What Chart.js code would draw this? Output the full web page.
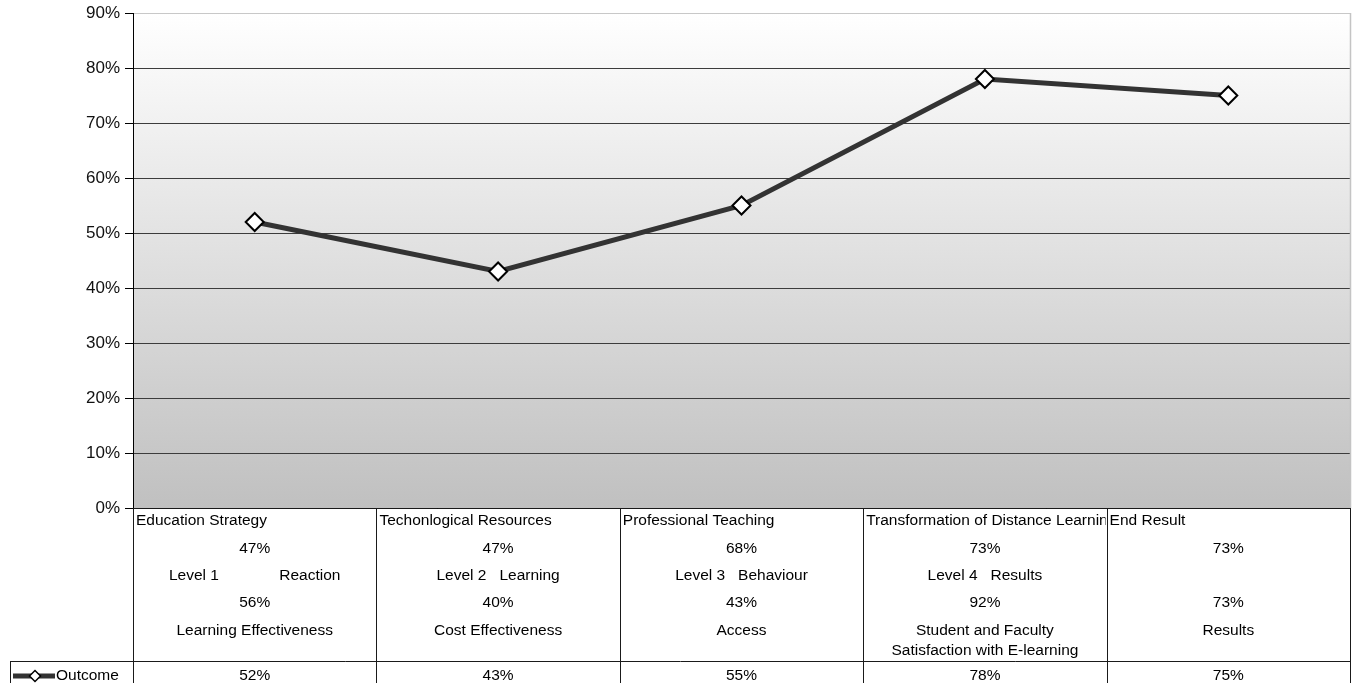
<!DOCTYPE html>
<html>
<head>
<meta charset="utf-8">
<script src="https://cdn.jsdelivr.net/npm/chart.js@4/dist/chart.umd.min.js"></script>
<style>
  html, body { margin: 0; padding: 0; background: #fff; overflow: hidden; }
  #wrap { width: 1357px; height: 683px; position: relative; }
  #c { display: block; }
</style>
</head>
<body>
<div id="wrap"><canvas id="c"></canvas></div>
<script>
// Category headings (first line of each table column)
const headings = ['Education Strategy', 'Techonlogical Resources', 'Professional Teaching', 'Transformation of Distance Learning', 'End Result'];
// First score in each column (%)
const firstScores = [47, 47, 68, 73, 73];
// Kirkpatrick level captions
const levels = ['Level 1              Reaction', 'Level 2   Learning', 'Level 3   Behaviour', 'Level 4   Results', ''];
// Second score in each column (%)
const secondScores = [56, 40, 43, 92, 73];
// Measure captions (may wrap onto two lines)
const measures = [['Learning Effectiveness'], ['Cost Effectiveness'], ['Access'], ['Student and Faculty', 'Satisfaction with E-learning'], ['Results']];
// Outcome series (%)
const outcome = [52, 43, 55, 78, 75];
const seriesName = 'Outcome';

const FONT = '"Liberation Sans", Arial, Helvetica, sans-serif';
const pct = v => v + '%';

// Grey vertical gradient behind the plot
const backdrop = {
  id: 'backdrop',
  beforeDraw(chart) {
    const { ctx, chartArea: a } = chart;
    const g = ctx.createLinearGradient(0, a.top, 0, a.bottom);
    g.addColorStop(0, '#ffffff');
    g.addColorStop(1, '#c0c0c0');
    ctx.save();
    ctx.fillStyle = g;
    ctx.fillRect(a.left, a.top, a.right - a.left, a.bottom - a.top);
    ctx.restore();
  }
};

function diamond(ctx, x, y, r, lw) {
  ctx.beginPath();
  ctx.moveTo(x - r, y);
  ctx.lineTo(x, y - r);
  ctx.lineTo(x + r, y);
  ctx.lineTo(x, y + r);
  ctx.closePath();
  ctx.fillStyle = '#fff';
  ctx.fill();
  ctx.lineWidth = lw;
  ctx.strokeStyle = '#000';
  ctx.stroke();
}

// Data table under the plot, laid out on the x scale's category bands
const dataTable = {
  id: 'dataTable',
  afterDraw(chart) {
    const { ctx, chartArea: a, scales: { x } } = chart;
    const n = headings.length;
    const step = (a.right - a.left) / n;
    const top = a.bottom;
    const rowSplit = top + 153;
    const bottom = chart.height;

    ctx.save();
    // light right border of the plot
    ctx.strokeStyle = '#c4c4c4';
    ctx.lineWidth = 1.5;
    ctx.beginPath();
    ctx.moveTo(a.right + 0.5, a.top);
    ctx.lineTo(a.right + 0.5, a.bottom);
    ctx.stroke();

    // table white background
    ctx.fillStyle = '#fff';
    ctx.fillRect(a.left, top + 1, a.right - a.left, bottom - top);

    ctx.strokeStyle = '#1a1a1a';
    ctx.lineWidth = 1;
    ctx.beginPath();
    // top line
    ctx.moveTo(a.left, top + 0.5); ctx.lineTo(a.right + 1, top + 0.5);
    // split between label row and series row
    const legLeft = 10;
    ctx.moveTo(legLeft, rowSplit + 0.5); ctx.lineTo(a.right + 1, rowSplit + 0.5);
    // legend cell left border
    ctx.moveTo(legLeft + 0.5, rowSplit); ctx.lineTo(legLeft + 0.5, bottom);
    for (let i = 0; i <= n; i++) {
      const xx = Math.round(x.getPixelForValue(i) - step / 2) + 0.5;
      ctx.moveTo(xx, top); ctx.lineTo(xx, bottom);
    }
    ctx.stroke();

    ctx.font = '15.5px ' + FONT;
    ctx.fillStyle = '#000';
    ctx.textBaseline = 'middle';
    for (let i = 0; i < n; i++) {
      const cx = x.getPixelForValue(i);
      const left = cx - step / 2;
      ctx.save();
      ctx.beginPath();
      ctx.rect(left + 1, top + 1, step - 2, bottom - top);
      ctx.clip();
      ctx.textAlign = 'left';
      ctx.fillText(headings[i], left + 3, top + 13);
      ctx.textAlign = 'center';
      ctx.fillText(pct(firstScores[i]), cx, top + 41);
      if (levels[i]) ctx.fillText(levels[i], cx, top + 68);
      ctx.fillText(pct(secondScores[i]), cx, top + 95);
      measures[i].forEach((t, k) => ctx.fillText(t, cx, top + 123 + k * 20));
      ctx.fillText(pct(outcome[i]), cx, rowSplit + 15);
      ctx.restore();
    }

    // legend key in the series row
    const ly = rowSplit + 15;
    ctx.strokeStyle = '#333';
    ctx.lineWidth = 5;
    ctx.beginPath();
    ctx.moveTo(13, ly); ctx.lineTo(55, ly);
    ctx.stroke();
    diamond(ctx, 35, ly, 5.5, 1.5);
    ctx.fillStyle = '#000';
    ctx.textAlign = 'left';
    ctx.fillText(seriesName, 56, ly);
    ctx.restore();
  }
};

new Chart(document.getElementById('c'), {
  type: 'line',
  data: {
    labels: headings,
    datasets: [{
      label: seriesName,
      data: outcome,
      borderColor: '#333333',
      borderWidth: 5,
      pointStyle: 'rectRot',
      pointRadius: 9,
      pointBackgroundColor: '#ffffff',
      pointBorderColor: '#000000',
      pointBorderWidth: 2,
      tension: 0
    }]
  },
  options: {
    responsive: true,
    maintainAspectRatio: false,
    animation: false,
    events: [],
    layout: { autoPadding: false, padding: { left: 0, top: 13, right: 7, bottom: 175 } },
    plugins: { legend: { display: false }, tooltip: { enabled: false } },
    scales: {
      x: { display: false, offset: true },
      y: {
        min: 0, max: 90,
        afterFit(scale) {
          scale.width = 133;
          scale.paddingTop = 0;
          scale.paddingBottom = 0;
        },
        border: { display: true, color: '#000', width: 1 },
        grid: {
          color: c => (c.tick && c.tick.value === 90) ? '#c8c8c8' : (c.tick && c.tick.value === 0 ? '#000' : '#3c3c3c'),
          tickColor: '#000',
          tickLength: 8,
          lineWidth: 1
        },
        ticks: {
          stepSize: 10,
          padding: 5,
          color: '#111',
          font: { family: FONT, size: 17 },
          callback: v => pct(v)
        }
      }
    }
  },
  plugins: [backdrop, dataTable]
});
</script>
</body>
</html>
